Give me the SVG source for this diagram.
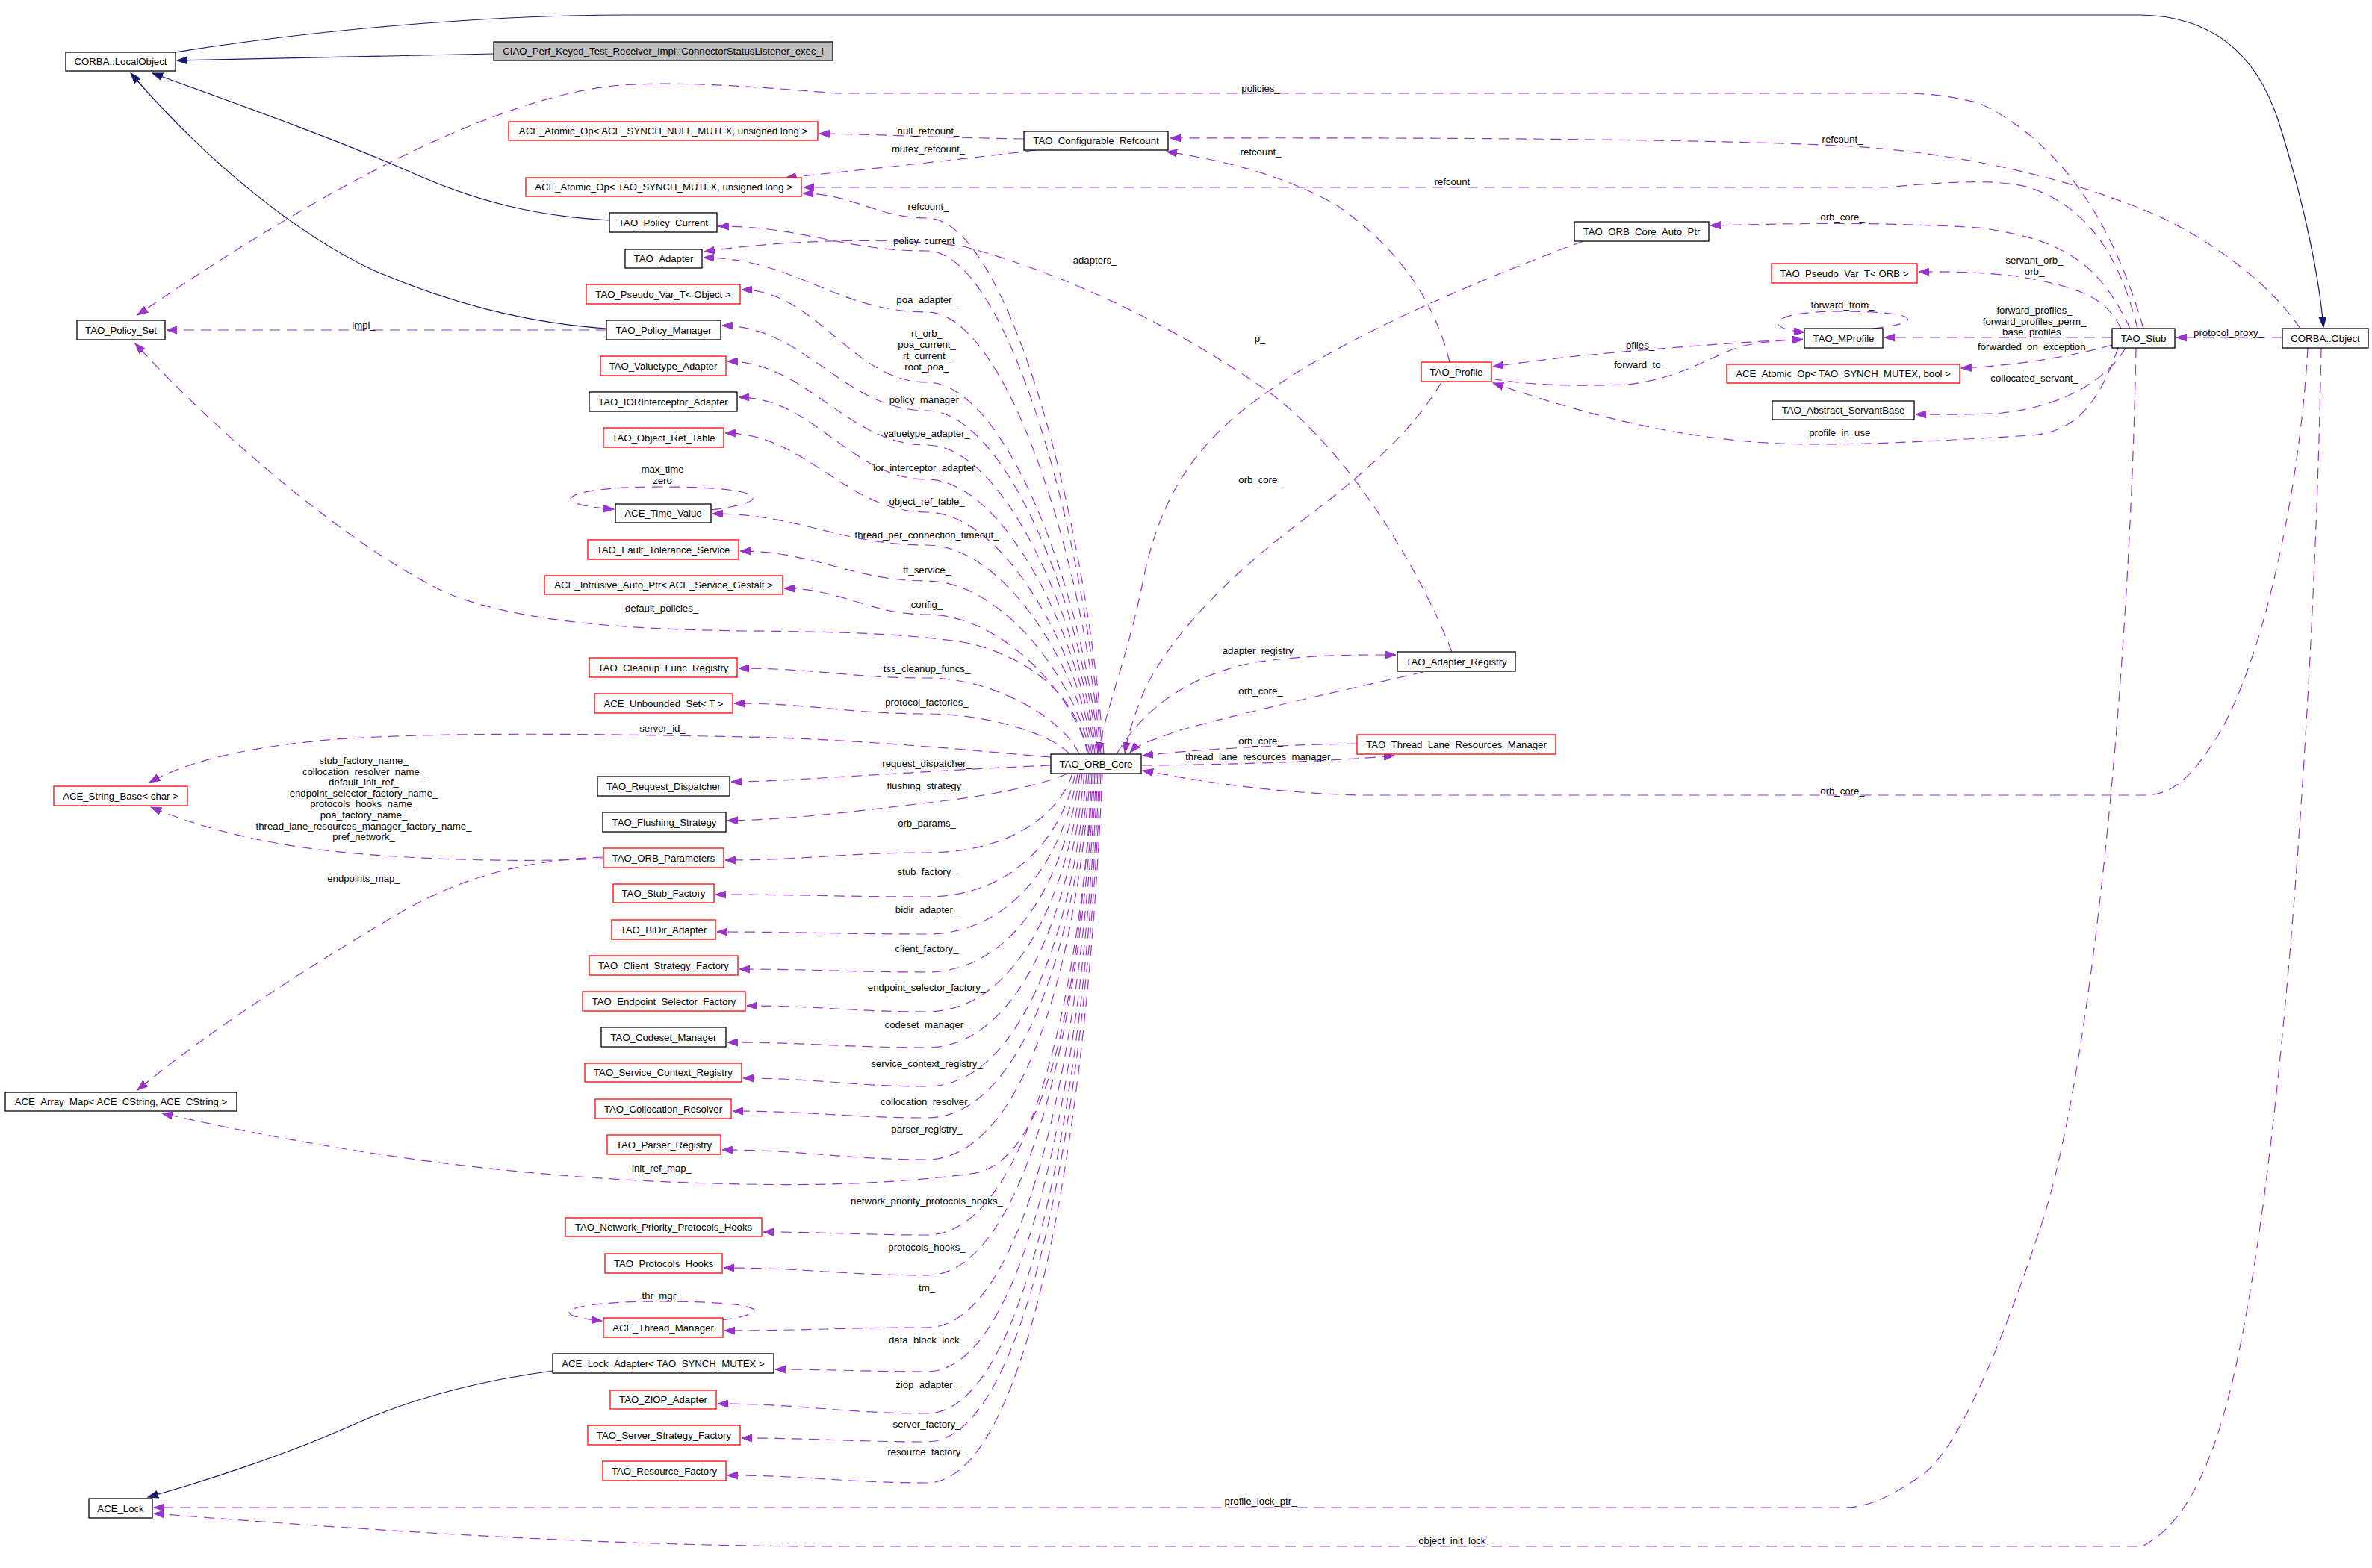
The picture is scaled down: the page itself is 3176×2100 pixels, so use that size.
<svg xmlns="http://www.w3.org/2000/svg" width="3176" height="2100" viewBox="0 0 3176 2100">
<defs>
<marker id="ap" markerUnits="userSpaceOnUse" markerWidth="15" markerHeight="11" refX="14" refY="5.5" orient="auto" viewBox="0 0 15 11"><path d="M0,0.5 L14,5.5 L0,10.5 z" fill="#9a32cd" stroke="#9a32cd" stroke-width="1"/></marker>
<marker id="an" markerUnits="userSpaceOnUse" markerWidth="15" markerHeight="11" refX="14" refY="5.5" orient="auto" viewBox="0 0 15 11"><path d="M0,0.5 L14,5.5 L0,10.5 z" fill="#191970" stroke="#191970" stroke-width="1"/></marker>
</defs>
<style>
text{font-family:"Liberation Sans",Arial,Helvetica,sans-serif;font-size:13.2px;fill:#000;text-anchor:middle}
.n rect{fill:#fff;stroke:#000;stroke-width:1.3}
.r rect{fill:#fff;stroke:#ff0000;stroke-width:1.3}
.g rect{fill:#bfbfbf;stroke:#000;stroke-width:1.3}
.e{fill:none;stroke:#9a32cd;stroke-width:1.2;stroke-dasharray:14,9;marker-end:url(#ap)}
.s{fill:none;stroke:#191970;stroke-width:1.2;marker-end:url(#an)}
</style>
<rect x="0" y="0" width="3176" height="2100" fill="#fff"/>

<g id="edges">
<!-- solid inheritance -->
<path class="s" d="M661,72 C550,74 400,78 237,81"/>
<path class="s" d="M816,295 C720,290 640,270 560,235 C460,190 320,140 204,98"/>
<path class="s" d="M812,440 C700,432 600,405 500,362 C400,315 280,220 175,98"/>
<path class="s" d="M740,1836 C650,1848 560,1870 480,1905 C380,1950 270,1985 198,2005"/>
<path class="s" d="M235,70 C420,40 650,20 842,20 L2868,20 C2960,22 3020,70 3050,160 C3085,270 3105,370 3111,438"/>

<!-- ORB_Core to left column (top) -->
<path class="e" d="M1478,1010 C1454,687 1348,292 1241,292 C1175,292 1141,259 1075,259"/>
<path class="e" d="M1476,1010 C1452,707 1347,336 1241,336 C1129,336 1074,303 962,303"/>
<path class="e" d="M1474,1010 C1451,744 1346,418 1241,418 C1121,418 1062,345 942,345"/>
<path class="e" d="M1472,1010 C1449,786 1345,512 1241,512 C1142,512 1092,388 993,388"/>
<path class="e" d="M1470,1010 C1447,803 1344,550 1241,550 C1131,550 1077,436 967,436"/>
<path class="e" d="M1468,1010 C1445,824 1343,596 1241,596 C1134,596 1081,484 974,484"/>
<path class="e" d="M1466,1010 C1444,844 1342,642 1241,642 C1140,642 1090,532 989,532"/>
<path class="e" d="M1464,1010 C1442,864 1341,686 1241,686 C1133,686 1079,580 971,580"/>
<path class="e" d="M1462,1010 C1440,884 1341,730 1241,730 C1126,730 1069,688 954,688"/>
<path class="e" d="M1460,1010 C1438,906 1340,778 1241,778 C1141,778 1091,738 991,738"/>
<path class="e" d="M1458,1010 C1436,926 1339,823 1241,823 C1165,823 1126,788 1050,788"/>
<path class="e" d="M1456,1010 C1445,940 1390,885 1300,862 C1220,848 1120,846 1000,845 C850,843 700,835 600,795 C480,740 300,590 181,460"/>
<path class="e" d="M1445,1010 C1425,964 1333,908 1241,908 C1140,908 1090,895 989,895"/>
<path class="e" d="M1432,1010 C1413,986 1327,956 1241,956 C1138,956 1086,942 983,942"/>
<!-- ORB_Core left / bottom -->
<path class="e" d="M1407,1014 C1300,1005 1150,990 1000,987 C800,983 600,980 450,990 C330,1000 250,1020 200,1048"/>
<path class="e" d="M1407,1025 C1330,1028 1200,1036 1100,1042 C1050,1045 1010,1047 979,1047"/>
<path class="e" d="M1429,1036 C1400,1050 1330,1065 1260,1073 C1160,1085 1060,1098 974,1099"/>
<path class="e" d="M1436,1036 C1417,1094 1348,1142 1241,1142 C1133,1142 1079,1152 971,1152"/>
<path class="e" d="M1440,1036 C1420,1127 1351,1201 1241,1201 C1128,1201 1071,1198 958,1198"/>
<path class="e" d="M1443,1036 C1423,1154 1352,1251 1241,1251 C1129,1251 1072,1248 960,1248"/>
<path class="e" d="M1446,1036 C1426,1182 1354,1302 1241,1302 C1141,1302 1090,1298 990,1298"/>
<path class="e" d="M1449,1036 C1428,1212 1355,1355 1241,1355 C1145,1355 1096,1347 1000,1347"/>
<path class="e" d="M1452,1036 C1431,1238 1357,1403 1241,1403 C1134,1403 1081,1396 974,1396"/>
<path class="e" d="M1455,1036 C1434,1267 1359,1455 1241,1455 C1143,1455 1093,1444 995,1444"/>
<path class="e" d="M1458,1036 C1436,1290 1360,1497 1241,1497 C1137,1497 1085,1488 981,1488"/>
<path class="e" d="M1460,1036 C1438,1320 1362,1553 1241,1553 C1131,1553 1077,1540 967,1540"/>
<path class="e" d="M1462,1036 C1445,1350 1400,1560 1300,1572 C1200,1585 1100,1588 1000,1586 C750,1582 500,1555 217,1491"/>
<path class="e" d="M1464,1036 C1442,1376 1364,1654 1241,1654 C1153,1654 1110,1650 1022,1650"/>
<path class="e" d="M1466,1036 C1444,1406 1365,1708 1241,1708 C1132,1708 1078,1698 969,1698"/>
<path class="e" d="M1468,1036 C1445,1444 1366,1778 1241,1778 C1133,1778 1078,1782 970,1782"/>
<path class="e" d="M1470,1036 C1447,1477 1367,1837 1241,1837 C1160,1837 1119,1834 1038,1834"/>
<path class="e" d="M1472,1036 C1449,1507 1368,1893 1241,1893 C1129,1893 1073,1880 961,1880"/>
<path class="e" d="M1474,1036 C1451,1528 1369,1931 1241,1931 C1142,1931 1092,1926 993,1926"/>
<path class="e" d="M1476,1036 C1453,1559 1370,1986 1241,1986 C1134,1986 1081,1976 974,1976"/>

<!-- other left-side edges -->
<path class="e" d="M812,442 L223,442"/>
<path class="e" d="M808,1150 C680,1156 520,1150 420,1137 C330,1125 260,1105 202,1081"/>
<path class="e" d="M808,1148 C700,1152 620,1175 540,1220 C420,1290 280,1380 184,1460"/>
<path class="e" d="M952,683 C1040,672 1030,652 886,652 C745,652 730,676 822,682"/>
<path class="e" d="M966,1768 C1040,1758 1025,1743 886,1743 C750,1743 730,1762 806,1769"/>

<!-- refcount area -->
<path class="e" d="M1371,186 C1250,184 1180,180 1097,179"/>
<path class="e" d="M1387,201 C1300,212 1150,228 1052,238"/>
<path class="e" d="M2862,440 C2840,350 2800,280 2720,252 C2680,240 2620,242 2525,251 L1076,251"/>
<path class="e" d="M2870,440 C2830,300 2760,190 2650,138 C2610,128 2580,125 2546,125 L1120,125 C1000,115 900,108 820,115 C650,135 420,260 184,422"/>
<path class="e" d="M3080,440 C3040,380 2960,320 2880,285 C2760,235 2620,205 2480,196 C2300,186 1900,184 1567,185"/>
<path class="e" d="M1941,485 C1920,400 1870,330 1790,275 C1720,235 1640,215 1562,203"/>

<!-- middle -->
<path class="e" d="M1944,873 C1900,760 1800,590 1680,512 C1560,430 1420,365 1290,330 C1200,318 1060,320 943,337"/>
<path class="e" d="M2120,323 C1980,375 1800,450 1690,530 C1590,600 1550,680 1530,780 C1510,880 1480,950 1471,1008"/>
<path class="e" d="M1930,512 C1890,580 1820,640 1740,700 C1640,775 1560,860 1530,930 C1518,960 1510,985 1506,1008"/>
<path class="e" d="M1495,1010 C1530,950 1590,905 1680,887 C1760,876 1820,877 1869,877"/>
<path class="e" d="M1906,900 C1820,920 1680,950 1580,978 C1545,990 1522,998 1513,1008"/>
<path class="e" d="M1817,996 C1700,998 1600,1004 1530,1012"/>
<path class="e" d="M1529,1025 C1650,1024 1780,1020 1867,1012"/>
<path class="e" d="M3090,466 C3080,650 3030,900 2960,1000 C2930,1045 2905,1065 2872,1065 L1822,1065 C1700,1062 1600,1045 1530,1032"/>

<!-- Stub / Object -->
<path class="e" d="M2852,440 C2810,350 2760,320 2650,305 C2500,296 2380,300 2290,302"/>
<path class="e" d="M2840,440 C2820,400 2790,385 2700,370 C2640,363 2600,364 2569,364"/>
<path class="e" d="M2828,452 L2523,452"/>
<path class="e" d="M2828,462 C2780,476 2700,490 2626,493"/>
<path class="e" d="M2846,466 C2820,510 2760,545 2680,553 C2630,556 2600,555 2565,555"/>
<path class="e" d="M2836,466 C2810,540 2780,578 2720,583 C2600,590 2450,600 2350,592 C2200,580 2080,540 1999,513"/>
<path class="e" d="M2414,454 C2300,460 2180,470 2100,478 C2050,484 2020,488 1999,491"/>
<path class="e" d="M1997,507 C2040,515 2100,518 2180,515 C2260,505 2300,470 2340,462 C2370,457 2390,455 2414,455"/>
<path class="e" d="M2508,440 C2580,432 2570,417 2467,417 C2365,417 2360,440 2416,445"/>
<path class="e" d="M3056,452 L2914,452"/>
<path class="e" d="M2860,466 C2852,900 2800,1450 2730,1650 C2680,1800 2620,1950 2567,1980 C2530,2005 2500,2019 2470,2019 L206,2019"/>
<path class="e" d="M3108,466 C3100,900 3060,1500 3000,1800 C2970,1950 2930,2040 2868,2071 L1100,2071 C800,2070 500,2050 206,2027"/>
</g>

<g id="edge-labels">
<text x="487" y="439.5">impl_</text>
<text x="887" y="633">max_time</text>
<text x="887" y="648">zero</text>
<text x="1688" y="123">policies_</text>
<text x="1243" y="180">null_refcount_</text>
<text x="1243" y="204">mutex_refcount_</text>
<text x="1688" y="208">refcount_</text>
<text x="1948" y="248">refcount_</text>
<text x="1243" y="281">refcount_</text>
<text x="2467" y="191">refcount_</text>
<text x="1241" y="326.5">policy_current_</text>
<text x="1466" y="353">adapters_</text>
<text x="1241" y="405.5">poa_adapter_</text>
<text x="1241" y="451">rt_orb_</text>
<text x="1241" y="465.5">poa_current_</text>
<text x="1241" y="480.5">rt_current_</text>
<text x="1241" y="495.5">root_poa_</text>
<text x="1241" y="540">policy_manager_</text>
<text x="1241" y="585">valuetype_adapter_</text>
<text x="1241" y="631">ior_interceptor_adapter_</text>
<text x="1241" y="676">object_ref_table_</text>
<text x="1687" y="458">p_</text>
<text x="1688" y="647">orb_core_</text>
<text x="1241" y="721">thread_per_connection_timeout_</text>
<text x="1241" y="767.5">ft_service_</text>
<text x="1241" y="813.5">config_</text>
<text x="886" y="819">default_policies_</text>
<text x="1241" y="899.5">tss_cleanup_funcs_</text>
<text x="1241" y="944.5">protocol_factories_</text>
<text x="887" y="979.5">server_id_</text>
<text x="487" y="1023">stub_factory_name_</text>
<text x="487" y="1037.6">collocation_resolver_name_</text>
<text x="487" y="1052.2">default_init_ref_</text>
<text x="487" y="1066.8">endpoint_selector_factory_name_</text>
<text x="487" y="1081.4">protocols_hooks_name_</text>
<text x="487" y="1096">poa_factory_name_</text>
<text x="487" y="1110.6">thread_lane_resources_manager_factory_name_</text>
<text x="487" y="1125.2">pref_network_</text>
<text x="1241" y="1027">request_dispatcher_</text>
<text x="1241" y="1057">flushing_strategy_</text>
<text x="1241" y="1107">orb_params_</text>
<text x="487" y="1181">endpoints_map_</text>
<text x="1241" y="1172">stub_factory_</text>
<text x="1241" y="1222.5">bidir_adapter_</text>
<text x="1241" y="1274.5">client_factory_</text>
<text x="1241" y="1327">endpoint_selector_factory_</text>
<text x="1241" y="1377">codeset_manager_</text>
<text x="1241" y="1429">service_context_registry_</text>
<text x="1241" y="1480">collocation_resolver_</text>
<text x="1241" y="1517">parser_registry_</text>
<text x="886" y="1568.5">init_ref_map_</text>
<text x="1241" y="1612.5">network_priority_protocols_hooks_</text>
<text x="1241" y="1675">protocols_hooks_</text>
<text x="1241" y="1729">tm_</text>
<text x="886" y="1739.5">thr_mgr_</text>
<text x="1241" y="1799">data_block_lock_</text>
<text x="1241" y="1858.5">ziop_adapter_</text>
<text x="1241" y="1912">server_factory_</text>
<text x="1241" y="1948.5">resource_factory_</text>
<text x="1688" y="2015">profile_lock_ptr_</text>
<text x="1948" y="2067.5">object_init_lock_</text>
<text x="1688" y="876">adapter_registry_</text>
<text x="1688" y="929.5">orb_core_</text>
<text x="1688" y="996.5">orb_core_</text>
<text x="1688" y="1017.5">thread_lane_resources_manager_</text>
<text x="2467" y="1063.5">orb_core_</text>
<text x="2467" y="295">orb_core_</text>
<text x="2724" y="353">servant_orb_</text>
<text x="2724" y="368">orb_</text>
<text x="2467" y="413">forward_from_</text>
<text x="2724" y="420">forward_profiles_</text>
<text x="2724" y="434.8">forward_profiles_perm_</text>
<text x="2724" y="449">base_profiles_</text>
<text x="2724" y="469">forwarded_on_exception_</text>
<text x="2724" y="511">collocated_servant_</text>
<text x="2467" y="584">profile_in_use_</text>
<text x="2196" y="466.5">pfiles_</text>
<text x="2196" y="492.5">forward_to_</text>
<text x="2984" y="449.5">protocol_proxy_</text>
</g>

<g id="n_CORBA_LocalObject" class="n"><rect x="88" y="70" width="147" height="25"/><text x="161.5" y="87.1">CORBA::LocalObject</text></g>
<g id="n_CIAO" class="g"><rect x="661" y="56" width="454" height="25"/><text x="888" y="73.1">CIAO_Perf_Keyed_Test_Receiver_Impl::ConnectorStatusListener_exec_i</text></g>
<g id="n_AtomicNull" class="r"><rect x="681" y="163" width="414" height="25"/><text x="888" y="180.1">ACE_Atomic_Op&lt; ACE_SYNCH_NULL_MUTEX, unsigned long &gt;</text></g>
<g id="n_AtomicTaoUL" class="r"><rect x="704" y="238" width="369" height="25"/><text x="888.5" y="255.1">ACE_Atomic_Op&lt; TAO_SYNCH_MUTEX, unsigned long &gt;</text></g>
<g id="n_ConfigRefcount" class="n"><rect x="1371" y="176" width="193" height="25"/><text x="1467.5" y="193.1">TAO_Configurable_Refcount</text></g>
<g id="n_PolicyCurrent" class="n"><rect x="816" y="285" width="144" height="26"/><text x="888" y="302.6">TAO_Policy_Current</text></g>
<g id="n_Adapter" class="n"><rect x="837" y="334" width="103" height="25"/><text x="888.5" y="351.1">TAO_Adapter</text></g>
<g id="n_PseudoVarObject" class="r"><rect x="785" y="381" width="206" height="26"/><text x="888" y="398.6">TAO_Pseudo_Var_T&lt; Object &gt;</text></g>
<g id="n_PolicySet" class="n"><rect x="103" y="429" width="118" height="26"/><text x="162" y="446.6">TAO_Policy_Set</text></g>
<g id="n_PolicyManager" class="n"><rect x="812" y="429" width="153" height="26"/><text x="888.5" y="446.6">TAO_Policy_Manager</text></g>
<g id="n_Valuetype" class="r"><rect x="804" y="477" width="168" height="26"/><text x="888" y="494.6">TAO_Valuetype_Adapter</text></g>
<g id="n_IORInterceptor" class="n"><rect x="789" y="525" width="198" height="26"/><text x="888" y="542.6">TAO_IORInterceptor_Adapter</text></g>
<g id="n_ObjectRefTable" class="r"><rect x="808" y="573" width="161" height="26"/><text x="888.5" y="590.6">TAO_Object_Ref_Table</text></g>
<g id="n_TimeValue" class="n"><rect x="824" y="675" width="128" height="25"/><text x="888" y="692.1">ACE_Time_Value</text></g>
<g id="n_FaultTolerance" class="r"><rect x="787" y="723" width="202" height="26"/><text x="888" y="740.6">TAO_Fault_Tolerance_Service</text></g>
<g id="n_Intrusive" class="r"><rect x="729" y="771" width="319" height="25"/><text x="888.5" y="788.1">ACE_Intrusive_Auto_Ptr&lt; ACE_Service_Gestalt &gt;</text></g>
<g id="n_Cleanup" class="r"><rect x="789" y="881" width="198" height="26"/><text x="888" y="898.6">TAO_Cleanup_Func_Registry</text></g>
<g id="n_Unbounded" class="r"><rect x="796" y="929" width="185" height="26"/><text x="888.5" y="946.6">ACE_Unbounded_Set&lt; T &gt;</text></g>
<g id="n_StringBase" class="r"><rect x="72" y="1053" width="179" height="26"/><text x="161.5" y="1070.6">ACE_String_Base&lt; char &gt;</text></g>
<g id="n_RequestDispatcher" class="n"><rect x="800" y="1040" width="177" height="26"/><text x="888.5" y="1057.6">TAO_Request_Dispatcher</text></g>
<g id="n_Flushing" class="n"><rect x="807" y="1088" width="165" height="26"/><text x="889.5" y="1105.6">TAO_Flushing_Strategy</text></g>
<g id="n_ORBParams" class="r"><rect x="808" y="1136" width="161" height="26"/><text x="888.5" y="1153.6">TAO_ORB_Parameters</text></g>
<g id="n_StubFactory" class="r"><rect x="821" y="1184" width="135" height="25"/><text x="888.5" y="1201.1">TAO_Stub_Factory</text></g>
<g id="n_BiDir" class="r"><rect x="819" y="1232" width="139" height="26"/><text x="888.5" y="1249.6">TAO_BiDir_Adapter</text></g>
<g id="n_ClientStrategy" class="r"><rect x="789" y="1280" width="199" height="26"/><text x="888.5" y="1297.6">TAO_Client_Strategy_Factory</text></g>
<g id="n_EndpointSelector" class="r"><rect x="780" y="1328" width="218" height="26"/><text x="889" y="1345.6">TAO_Endpoint_Selector_Factory</text></g>
<g id="n_Codeset" class="n"><rect x="805" y="1376" width="167" height="26"/><text x="888.5" y="1393.6">TAO_Codeset_Manager</text></g>
<g id="n_ServiceContext" class="r"><rect x="783" y="1424" width="210" height="25"/><text x="888" y="1441.1">TAO_Service_Context_Registry</text></g>
<g id="n_Collocation" class="r"><rect x="797" y="1472" width="182" height="26"/><text x="888" y="1489.6">TAO_Collocation_Resolver</text></g>
<g id="n_Parser" class="r"><rect x="813" y="1520" width="152" height="26"/><text x="889" y="1537.6">TAO_Parser_Registry</text></g>
<g id="n_ArrayMap" class="n"><rect x="7" y="1463" width="310" height="25"/><text x="162" y="1480.1">ACE_Array_Map&lt; ACE_CString, ACE_CString &gt;</text></g>
<g id="n_NetworkPriority" class="r"><rect x="757" y="1631" width="263" height="25"/><text x="888.5" y="1648.1">TAO_Network_Priority_Protocols_Hooks</text></g>
<g id="n_ProtocolsHooks" class="r"><rect x="810" y="1679" width="157" height="26"/><text x="888.5" y="1696.6">TAO_Protocols_Hooks</text></g>
<g id="n_ThreadManager" class="r"><rect x="808" y="1765" width="160" height="26"/><text x="888" y="1782.6">ACE_Thread_Manager</text></g>
<g id="n_LockAdapter" class="n"><rect x="740" y="1813" width="296" height="26"/><text x="888" y="1830.6">ACE_Lock_Adapter&lt; TAO_SYNCH_MUTEX &gt;</text></g>
<g id="n_ZIOP" class="r"><rect x="817" y="1862" width="142" height="25"/><text x="888" y="1879.1">TAO_ZIOP_Adapter</text></g>
<g id="n_ServerStrategy" class="r"><rect x="787" y="1909" width="204" height="26"/><text x="889" y="1926.6">TAO_Server_Strategy_Factory</text></g>
<g id="n_ResourceFactory" class="r"><rect x="807" y="1957" width="165" height="26"/><text x="889.5" y="1974.6">TAO_Resource_Factory</text></g>
<g id="n_ACE_Lock" class="n"><rect x="119" y="2007" width="85" height="26"/><text x="161.5" y="2024.6">ACE_Lock</text></g>
<g id="n_ORB_Core" class="n"><rect x="1407" y="1010" width="121" height="26"/><text x="1467.5" y="1027.6">TAO_ORB_Core</text></g>
<g id="n_AdapterRegistry" class="n"><rect x="1871" y="873" width="158" height="26"/><text x="1950" y="890.6">TAO_Adapter_Registry</text></g>
<g id="n_ThreadLane" class="r"><rect x="1817" y="984" width="266" height="26"/><text x="1950" y="1001.6">TAO_Thread_Lane_Resources_Manager</text></g>
<g id="n_Profile" class="r"><rect x="1903" y="485" width="94" height="26"/><text x="1950" y="502.6">TAO_Profile</text></g>
<g id="n_AutoPtr" class="n"><rect x="2108" y="297" width="180" height="26"/><text x="2198" y="314.6">TAO_ORB_Core_Auto_Ptr</text></g>
<g id="n_PseudoVarORB" class="r"><rect x="2372" y="353" width="195" height="26"/><text x="2469.5" y="370.6">TAO_Pseudo_Var_T&lt; ORB &gt;</text></g>
<g id="n_MProfile" class="n"><rect x="2416" y="440" width="105" height="26"/><text x="2468.5" y="457.6">TAO_MProfile</text></g>
<g id="n_AtomicBool" class="r"><rect x="2312" y="488" width="312" height="25"/><text x="2468" y="505.1">ACE_Atomic_Op&lt; TAO_SYNCH_MUTEX, bool &gt;</text></g>
<g id="n_AbstractServant" class="n"><rect x="2373" y="537" width="190" height="25"/><text x="2468" y="554.1">TAO_Abstract_ServantBase</text></g>
<g id="n_Stub" class="n"><rect x="2828" y="440" width="84" height="26"/><text x="2870" y="457.6">TAO_Stub</text></g>
<g id="n_CORBA_Object" class="n"><rect x="3056" y="440" width="115" height="26"/><text x="3113.5" y="457.6">CORBA::Object</text></g>
</svg>
